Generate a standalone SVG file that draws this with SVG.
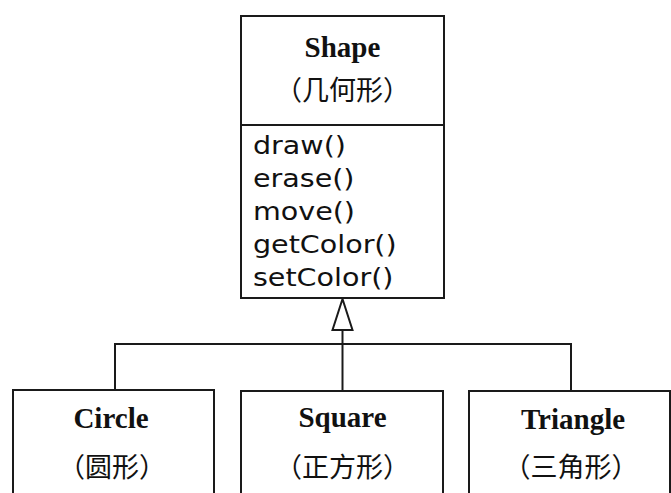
<svg xmlns="http://www.w3.org/2000/svg" width="671" height="493" viewBox="0 0 671 493">
<style>
.box{fill:#fff;stroke:#1a1a1a;stroke-width:2}
.ln{fill:none;stroke:#1a1a1a;stroke-width:2}
.title{font-family:"Liberation Serif","Noto Sans CJK SC",serif;font-weight:bold;font-size:29px;fill:#111;text-anchor:middle}
.cn{font-family:"Noto Sans CJK SC",sans-serif;font-size:27px;fill:#111;text-anchor:middle}
.m{font-family:"DejaVu Sans",sans-serif;font-size:24px;fill:#111}
</style>
<rect width="671" height="493" fill="#fff"/>
<g id="connectors">
<polyline class="ln" points="115,390 115,344 571,344 571,391"/>
<line class="ln" x1="342.5" y1="330" x2="342.5" y2="391"/>
<polygon class="ln" points="342.5,299 332.5,330 352.5,330" style="fill:#fff"/>
</g>
<g id="shape">
<rect class="box" x="241" y="16" width="203" height="282"/>
<line class="ln" x1="241" y1="125" x2="444" y2="125"/>
<text class="title" x="342.5" y="57">Shape</text>
<text class="cn" x="342.5" y="100">（几何形）</text>
<g transform="translate(253,0) scale(1.19,1)">
<text class="m" x="0" y="154">draw()</text>
<text class="m" x="0" y="187">erase()</text>
<text class="m" x="0" y="220">move()</text>
<text class="m" x="0" y="253">getColor()</text>
<text class="m" x="0" y="286">setColor()</text>
</g>
</g>
<g id="circle">
<rect class="box" x="13" y="390" width="201" height="120"/>
<text class="title" x="111" y="428">Circle</text>
<text class="cn" x="112" y="477">（圆形）</text>
</g>
<g id="square">
<rect class="box" x="241" y="391" width="202" height="120"/>
<text class="title" x="342.5" y="427">Square</text>
<text class="cn" x="342.5" y="477">（正方形）</text>
</g>
<g id="triangle">
<rect class="box" x="469" y="391" width="201" height="120"/>
<text class="title" x="573" y="429">Triangle</text>
<text class="cn" x="571" y="477">（三角形）</text>
</g>
</svg>
